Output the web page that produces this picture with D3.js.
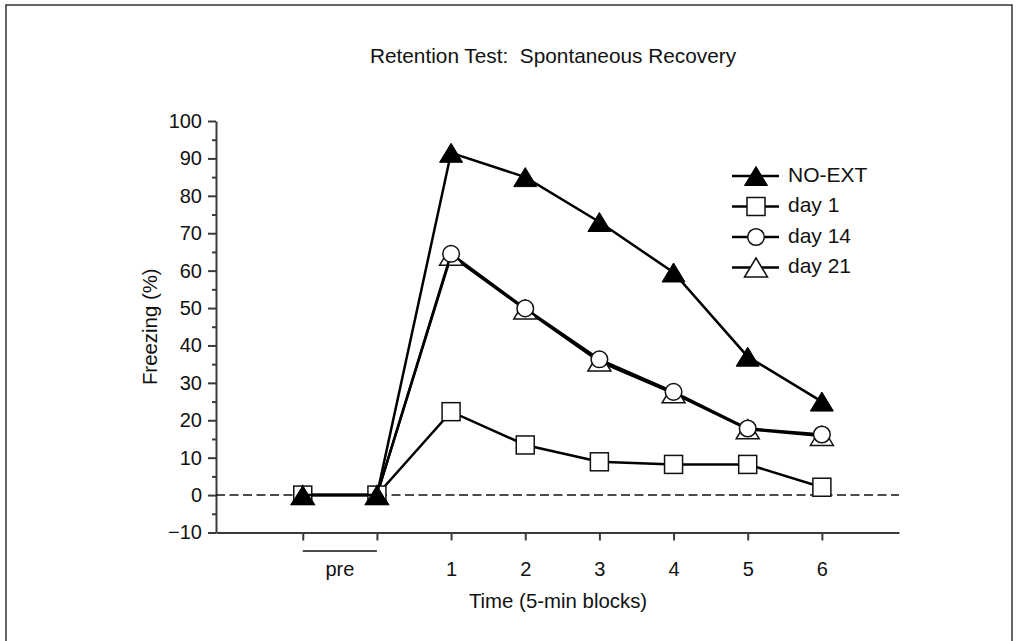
<!DOCTYPE html>
<html>
<head>
<meta charset="utf-8">
<script src="https://cdn.jsdelivr.net/npm/d3@7"></script>
<style>
  body { margin: 0; background: #fff; }
  svg { display: block; font-family: "Liberation Sans", Arial, Helvetica, sans-serif; }
</style>
</head>
<body>
<div id="chart"></div>
<script>
// block positions: two "pre" blocks then blocks 1..6
var blocks = [0, 1, 2, 3, 4, 5, 6, 7];
var blockLabels = ["", "", "1", "2", "3", "4", "5", "6"];
var seriesNames = ["NO-EXT", "day 1", "day 14", "day 21"];

var noExt = [0, 0, 91.5, 85, 73, 59.5, 37, 25];
var day1  = [0, 0, 22.3, 13.4, 8.9, 8.2, 8.2, 2.1];
var day14 = [0, 0, 64.5, 49.9, 36.3, 27.6, 17.8, 16.2];
var day21 = [0, 0, 64, 49.6, 35.7, 27.2, 17.6, 15.8];

var yMajor = d3.range(-10, 101, 10);
var yMinor = d3.range(-5, 100, 10);

var W = 1016, H = 641;
var svg = d3.select("#chart").append("svg").attr("width", W).attr("height", H);

// outer frame
svg.append("rect")
  .attr("x", 6).attr("y", 5).attr("width", 1006).attr("height", 700)
  .attr("fill", "none").attr("stroke", "#333").attr("stroke-width", 1.5);

var x = d3.scaleLinear().domain([-1.17, 8.04]).range([216, 899]);
var y = d3.scaleLinear().domain([-10, 100]).range([532.5, 121]);

// axes
svg.append("g")
  .attr("transform", "translate(216,0)")
  .call(d3.axisLeft(y).tickValues(yMajor).tickSize(8).tickSizeOuter(0).tickPadding(6)
    .tickFormat(function(d) { return d < 0 ? "\u2212" + Math.abs(d) : d; }));
svg.append("g")
  .attr("transform", "translate(216,0)")
  .call(d3.axisLeft(y).tickValues(yMinor).tickSize(4).tickSizeOuter(0).tickFormat(""))
  .select(".domain").remove();

svg.append("g")
  .attr("transform", "translate(0," + y(-10) + ")")
  .call(d3.axisBottom(x).tickValues(blocks).tickSize(8).tickSizeOuter(0).tickPadding(21)
    .tickFormat(function(d, i) { return blockLabels[i]; }));

svg.selectAll(".domain, .tick line").attr("stroke", "#3a3a3a").attr("stroke-width", 2);
svg.selectAll(".tick text").attr("font-size", 20).attr("fill", "#111")
  .attr("font-family", "Liberation Sans, Arial, sans-serif");

// "pre" bracket
svg.append("line")
  .attr("x1", x(0)).attr("x2", x(1)).attr("y1", 551).attr("y2", 551)
  .attr("stroke", "#111").attr("stroke-width", 1.5);
svg.append("text")
  .attr("x", (x(0) + x(1)) / 2).attr("y", 576)
  .attr("text-anchor", "middle").attr("font-size", 20).attr("fill", "#111")
  .text("pre");

// zero reference line
svg.append("line")
  .attr("x1", 216).attr("x2", 899).attr("y1", y(0)).attr("y2", y(0))
  .attr("stroke", "#111").attr("stroke-width", 1.5).attr("stroke-dasharray", "9,4.5");

// titles
svg.append("text")
  .attr("x", 553).attr("y", 62.5).attr("text-anchor", "middle")
  .attr("font-size", 20.8).attr("fill", "#111")
  .text("Retention Test:\u00a0 Spontaneous Recovery");
svg.append("text")
  .attr("x", 558).attr("y", 608).attr("text-anchor", "middle")
  .attr("font-size", 20.4).attr("fill", "#111")
  .text("Time (5-min blocks)");
svg.append("text")
  .attr("transform", "translate(157," + (y(45)) + ") rotate(-90)")
  .attr("text-anchor", "middle").attr("font-size", 20.4).attr("fill", "#111")
  .text("Freezing (%)");

// marker shapes
var triPath = "M0,-9.5L11.5,9.5L-11.5,9.5Z";
function drawMarker(g, type, cx, cy) {
  if (type === "triFill") {
    g.append("path").attr("d", triPath).attr("transform", "translate(" + cx + "," + cy + ")")
      .attr("fill", "#000").attr("stroke", "#000").attr("stroke-width", 1);
  } else if (type === "tri") {
    g.append("path").attr("d", triPath).attr("transform", "translate(" + cx + "," + cy + ")")
      .attr("fill", "#fff").attr("stroke", "#111").attr("stroke-width", 1.5);
  } else if (type === "square") {
    g.append("rect").attr("x", cx - 9).attr("y", cy - 9).attr("width", 18).attr("height", 18)
      .attr("fill", "#fff").attr("stroke", "#111").attr("stroke-width", 1.5);
  } else {
    g.append("circle").attr("cx", cx).attr("cy", cy).attr("r", 8.3)
      .attr("fill", "#fff").attr("stroke", "#111").attr("stroke-width", 1.5);
  }
}

var series = [
  { name: seriesNames[3], values: day21, marker: "tri" },
  { name: seriesNames[2], values: day14, marker: "circle" },
  { name: seriesNames[1], values: day1, marker: "square" },
  { name: seriesNames[0], values: noExt, marker: "triFill" }
];

var line = d3.line()
  .x(function(d, i) { return x(blocks[i]); })
  .y(function(d) { return y(d); });

series.forEach(function(s) {
  var g = svg.append("g");
  g.append("path").attr("d", line(s.values))
    .attr("fill", "none").attr("stroke", "#000").attr("stroke-width", 2.5);
  s.values.forEach(function(v, i) {
    drawMarker(g, s.marker, x(blocks[i]), y(v));
  });
});

// legend
var legendOrder = [
  { name: seriesNames[0], marker: "triFill" },
  { name: seriesNames[1], marker: "square" },
  { name: seriesNames[2], marker: "circle" },
  { name: seriesNames[3], marker: "tri" }
];
legendOrder.forEach(function(d, i) {
  var cy = 176 + 30.5 * i;
  var g = svg.append("g");
  g.append("line").attr("x1", 732).attr("x2", 779).attr("y1", cy).attr("y2", cy)
    .attr("stroke", "#000").attr("stroke-width", 2.5);
  drawMarker(g, d.marker, 756, cy);
  g.append("text").attr("x", 788).attr("y", cy + 5.5)
    .attr("font-size", 21).attr("fill", "#111").text(d.name);
});
</script>
</body>
</html>
